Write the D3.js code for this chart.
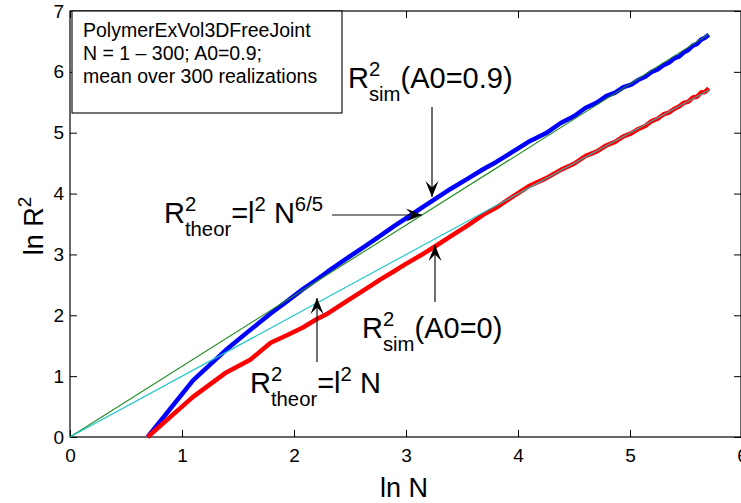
<!DOCTYPE html>
<html>
<head>
<meta charset="utf-8">
<script src="https://cdn.jsdelivr.net/npm/d3@7/dist/d3.min.js"></script>
<style>
  html, body { margin: 0; padding: 0; background: #fff; }
  svg { display: block; }
  text { font-family: "Liberation Sans", Arial, Helvetica, sans-serif; fill: #000; white-space: pre; }
</style>
</head>
<body>
<svg id="chart" width="741" height="503"></svg>
<script>
// Chain sizes N and mean ln R^2 from the simulations
const simN = [2, 3, 4, 5, 6, 7, 8, 9, 10, 12, 14, 16, 18, 20, 23, 26, 30, 35, 40, 45,
  50, 60, 70, 80, 90, 100, 110, 120, 130, 140, 150, 160, 170, 180, 190, 200,
  210, 220, 230, 240, 250, 260, 270, 280, 290, 300];
// excluded volume, A0 = 0.9
const lnR2A09 = [0, 0.93, 1.42, 1.76, 2.03, 2.24, 2.43, 2.58, 2.72, 2.95, 3.14, 3.31, 3.46, 3.59, 3.76, 3.91, 4.08, 4.25, 4.40, 4.52,
  4.64, 4.85, 4.99, 5.16, 5.27, 5.41, 5.49, 5.60, 5.66, 5.75, 5.79, 5.87, 5.92, 6.00, 6.04, 6.11,
  6.15, 6.22, 6.25, 6.32, 6.36, 6.43, 6.46, 6.53, 6.56, 6.61];
// free joint, A0 = 0
const lnR2A0 = [0, 0.66, 1.05, 1.27, 1.55, 1.68, 1.80, 1.93, 2.03, 2.25, 2.43, 2.59, 2.72, 2.84, 2.99, 3.13, 3.30, 3.48, 3.65, 3.77,
  3.90, 4.12, 4.25, 4.39, 4.49, 4.62, 4.69, 4.79, 4.85, 4.94, 4.99, 5.06, 5.11, 5.19, 5.23, 5.30,
  5.33, 5.39, 5.43, 5.49, 5.51, 5.58, 5.59, 5.66, 5.67, 5.73];

// Theoretical lines (end points)
const theorN = [1, 300];
const theorFlory = [0, 6.62];   // l^2 N^(6/5)
const theorIdeal = [0, 5.70];   // l^2 N

const xTicks = [0, 1, 2, 3, 4, 5, 6];
const yTicks = [0, 1, 2, 3, 4, 5, 6, 7];

const infoLines = ["PolymerExVol3DFreeJoint", "N = 1 \u2013 300; A0=0.9;", "mean over 300 realizations"];

const svg = d3.select("#chart");
const plotL = 70, plotR = 742, plotT = 11, plotB = 437;

const x = d3.scaleLinear().domain([0, 6]).range([plotL, plotR]);
const y = d3.scaleLinear().domain([0, 7]).range([plotB, plotT]);

const line = d3.line()
  .x(d => x(Math.log(d[0])))
  .y(d => y(d[1]));

// frame and inward ticks
svg.append("rect")
  .attr("x", plotL).attr("y", plotT)
  .attr("width", plotR - plotL - 1).attr("height", plotB - plotT)
  .attr("fill", "none").attr("stroke", "#000").attr("stroke-width", 1.2);

const tickLen = 7;
const axB = svg.append("g").attr("transform", `translate(0,${plotB})`)
  .call(d3.axisBottom(x).tickValues(xTicks).tickFormat(d3.format("d")).tickSizeInner(-tickLen).tickSizeOuter(0).tickPadding(12));
const axT = svg.append("g").attr("transform", `translate(0,${plotT})`)
  .call(d3.axisTop(x).tickValues(xTicks).tickFormat("").tickSizeInner(-tickLen).tickSizeOuter(0));
const axL = svg.append("g").attr("transform", `translate(${plotL},0)`)
  .call(d3.axisLeft(y).tickValues(yTicks).tickFormat(d3.format("d")).tickSizeInner(-tickLen).tickSizeOuter(0).tickPadding(6));
const axR = svg.append("g").attr("transform", `translate(${plotR - 1},0)`)
  .call(d3.axisRight(y).tickValues(yTicks).tickFormat("").tickSizeInner(-tickLen).tickSizeOuter(0));
[axB, axT, axL, axR].forEach(a => {
  a.select(".domain").remove();
  a.selectAll(".tick line").attr("stroke", "#000").attr("stroke-width", 1);
  a.selectAll(".tick text").attr("font-size", 19).attr("font-family", "Liberation Sans, Arial, sans-serif").attr("fill", "#000");
});
axB.selectAll(".tick text").attr("dy", "0.71em");

// simulation curves
svg.append("path")
  .datum(simN.map((n, i) => [n, lnR2A09[i]]))
  .attr("d", line).attr("fill", "none")
  .attr("stroke", "#0000ff").attr("stroke-width", 4.5)
  .attr("stroke-linejoin", "round").attr("stroke-linecap", "butt");
svg.append("path")
  .datum(simN.map((n, i) => [n, lnR2A0[i]]))
  .attr("d", line).attr("fill", "none")
  .attr("stroke", "#ff0000").attr("stroke-width", 4.5)
  .attr("stroke-linejoin", "round").attr("stroke-linecap", "butt");

// theory lines
svg.append("path")
  .datum(theorN.map((n, i) => [n, theorFlory[i]]))
  .attr("d", line).attr("fill", "none")
  .attr("stroke", "#1f8a1f").attr("stroke-width", 1.1);
svg.append("path")
  .datum(theorN.map((n, i) => [n, theorIdeal[i]]))
  .attr("d", line).attr("fill", "none")
  .attr("stroke", "#19c4c8").attr("stroke-width", 1.1);

// axis labels
svg.append("text")
  .attr("x", (plotL + plotR) / 2 - 2).attr("y", 497)
  .attr("text-anchor", "middle").attr("font-size", 27).text("ln N");
const yl = svg.append("text")
  .attr("transform", "translate(43,226) rotate(-90)")
  .attr("text-anchor", "middle").attr("font-size", 27);
yl.append("tspan").text("ln R");
yl.append("tspan").attr("font-size", 19).attr("dy", -12).text("2");

// info box
svg.append("rect")
  .attr("x", 72).attr("y", plotT).attr("width", 270).attr("height", 102)
  .attr("fill", "#fff").attr("stroke", "#000").attr("stroke-width", 1.1);
infoLines.forEach((t, i) => {
  svg.append("text").attr("x", 83).attr("y", 37 + i * 23)
    .attr("font-size", 19.5).text(t);
});

// rich text with TeX-like super/subscripts
function rich(x0, base, parts, size) {
  const g = svg.append("g");
  const small = size * 0.7;
  let cx = x0;
  parts.forEach(p => {
    if (p.sup !== undefined || p.sub !== undefined) {
      let w = 0;
      if (p.sup !== undefined) {
        const t = g.append("text").attr("x", cx).attr("y", base - 12).attr("font-size", small).text(p.sup);
        w = Math.max(w, t.node().getComputedTextLength());
      }
      if (p.sub !== undefined) {
        const t = g.append("text").attr("x", cx).attr("y", base + 13).attr("font-size", small).text(p.sub);
        w = Math.max(w, t.node().getComputedTextLength());
      }
      cx += w;
    } else {
      const t = g.append("text").attr("x", cx).attr("y", base).attr("font-size", size).text(p.t);
      cx += t.node().getComputedTextLength();
    }
  });
  return g;
}

const fs = 29;
rich(348, 88, [{t: "R"}, {sup: "2", sub: "sim"}, {t: "(A0=0.9)"}], fs);
rich(164, 223, [{t: "R"}, {sup: "2", sub: "theor"}, {t: "=l"}, {sup: "2"}, {t: "\u00a0N"}, {sup: "6/5"}], fs);
rich(362, 338, [{t: "R"}, {sup: "2", sub: "sim"}, {t: "(A0=0)"}], fs);
rich(250, 393, [{t: "R"}, {sup: "2", sub: "theor"}, {t: "=l"}, {sup: "2"}, {t: "\u00a0N"}], fs);

// annotation arrows
function arrow(x1, y1, x2, y2) {
  svg.append("line").attr("x1", x1).attr("y1", y1).attr("x2", x2).attr("y2", y2)
    .attr("stroke", "#111").attr("stroke-width", 1.2);
  const dx = x2 - x1, dy = y2 - y1, len = Math.hypot(dx, dy);
  const ux = dx / len, uy = dy / len, nx = -uy, ny = ux;
  const L = 16, W = 13;
  const p = [
    [x2, y2],
    [x2 - L * ux + W / 2 * nx, y2 - L * uy + W / 2 * ny],
    [x2 - 0.6 * L * ux, y2 - 0.6 * L * uy],
    [x2 - L * ux - W / 2 * nx, y2 - L * uy - W / 2 * ny]
  ];
  svg.append("path").attr("d", "M" + p.map(q => q.join(",")).join("L") + "Z").attr("fill", "#000");
}
arrow(432, 107, 432, 197);
arrow(332, 215, 422, 215);
arrow(435, 302, 435, 245);
arrow(317, 362, 317, 298);
</script>
</body>
</html>
